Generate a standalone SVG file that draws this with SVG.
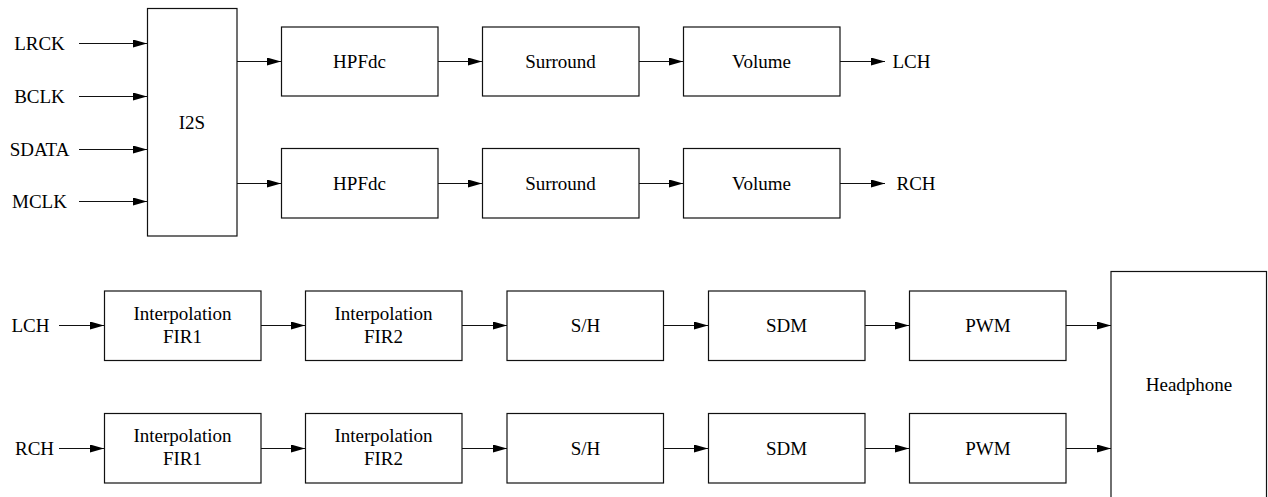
<svg xmlns="http://www.w3.org/2000/svg" width="1268" height="497" viewBox="0 0 1268 497">
<style>
.box{fill:#fff;stroke:#111;stroke-width:1.2}
.t{font-family:"Liberation Serif","Times New Roman","DejaVu Serif",serif;font-size:19px;fill:#000}
.m{text-anchor:middle}
.c{stroke:#111;stroke-width:1.2;fill:none;marker-end:url(#ah)}
</style>
<defs>
<marker id="ah" markerUnits="userSpaceOnUse" markerWidth="14" markerHeight="8" refX="14" refY="4" orient="auto">
<path d="M0,0 L14,4 L0,8 z" fill="#000"/>
</marker>
</defs>
<rect width="1268" height="497" fill="#fff"/>

<g id="labels">
<text class="t m" x="39.5" y="49.5">LRCK</text>
<text class="t m" x="39.5" y="102.5">BCLK</text>
<text class="t m" x="39.5" y="155.5">SDATA</text>
<text class="t m" x="39.5" y="207.5">MCLK</text>
<text class="t" x="892.5" y="68">LCH</text>
<text class="t" x="896.5" y="190">RCH</text>
<text class="t" x="11.5" y="332">LCH</text>
<text class="t" x="15" y="455">RCH</text>
</g>

<g id="i2s"><rect class="box" x="147.5" y="8.5" width="89.5" height="227.5"/><text class="t m" x="192" y="128.5">I2S</text></g>

<g id="hpf1"><rect class="box" x="281.5" y="27" width="156.5" height="69"/><text class="t m" x="359.5" y="68">HPFdc</text></g>
<g id="sur1"><rect class="box" x="482.5" y="27" width="156.5" height="69"/><text class="t m" x="560.5" y="68">Surround</text></g>
<g id="vol1"><rect class="box" x="683.5" y="27" width="156.5" height="69"/><text class="t m" x="761.5" y="68">Volume</text></g>
<g id="hpf2"><rect class="box" x="281.5" y="148.5" width="156.5" height="69.5"/><text class="t m" x="359.5" y="190">HPFdc</text></g>
<g id="sur2"><rect class="box" x="482.5" y="148.5" width="156.5" height="69.5"/><text class="t m" x="560.5" y="190">Surround</text></g>
<g id="vol2"><rect class="box" x="683.5" y="148.5" width="156.5" height="69.5"/><text class="t m" x="761.5" y="190">Volume</text></g>

<g id="fir1a"><rect class="box" x="104.5" y="291" width="156.5" height="69.5"/><text class="t m" x="182.5" y="319.5">Interpolation</text><text class="t m" x="182.5" y="342.5">FIR1</text></g>
<g id="fir2a"><rect class="box" x="305.5" y="291" width="156.5" height="69.5"/><text class="t m" x="383.5" y="319.5">Interpolation</text><text class="t m" x="383.5" y="342.5">FIR2</text></g>
<g id="sha"><rect class="box" x="507" y="291" width="156.5" height="69.5"/><text class="t m" x="585.5" y="332">S/H</text></g>
<g id="sdma"><rect class="box" x="708.5" y="291" width="156.5" height="69.5"/><text class="t m" x="786.5" y="332">SDM</text></g>
<g id="pwma"><rect class="box" x="909.5" y="291" width="156.5" height="69.5"/><text class="t m" x="988" y="332">PWM</text></g>

<g id="fir1b"><rect class="box" x="104.5" y="413.5" width="156.5" height="69.5"/><text class="t m" x="182.5" y="442">Interpolation</text><text class="t m" x="182.5" y="465">FIR1</text></g>
<g id="fir2b"><rect class="box" x="305.5" y="413.5" width="156.5" height="69.5"/><text class="t m" x="383.5" y="442">Interpolation</text><text class="t m" x="383.5" y="465">FIR2</text></g>
<g id="shb"><rect class="box" x="507" y="413.5" width="156.5" height="69.5"/><text class="t m" x="585.5" y="455">S/H</text></g>
<g id="sdmb"><rect class="box" x="708.5" y="413.5" width="156.5" height="69.5"/><text class="t m" x="786.5" y="455">SDM</text></g>
<g id="pwmb"><rect class="box" x="909.5" y="413.5" width="156.5" height="69.5"/><text class="t m" x="988" y="455">PWM</text></g>

<g id="headphone"><rect class="box" x="1111" y="271.5" width="155.5" height="240"/><text class="t m" x="1189" y="391">Headphone</text></g>

<g id="connectors">
<line class="c" x1="79" y1="43.5" x2="147" y2="43.5"/>
<line class="c" x1="79" y1="96.5" x2="147" y2="96.5"/>
<line class="c" x1="79" y1="149.5" x2="147" y2="149.5"/>
<line class="c" x1="79" y1="201.5" x2="147" y2="201.5"/>
<line class="c" x1="237" y1="61.5" x2="281" y2="61.5"/>
<line class="c" x1="438" y1="61.5" x2="482" y2="61.5"/>
<line class="c" x1="639" y1="61.5" x2="683" y2="61.5"/>
<line class="c" x1="840" y1="61.5" x2="885" y2="61.5"/>
<line class="c" x1="237" y1="183.5" x2="281" y2="183.5"/>
<line class="c" x1="438" y1="183.5" x2="482" y2="183.5"/>
<line class="c" x1="639" y1="183.5" x2="683" y2="183.5"/>
<line class="c" x1="840" y1="183.5" x2="885" y2="183.5"/>
<line class="c" x1="59" y1="325.5" x2="104" y2="325.5"/>
<line class="c" x1="261" y1="325.5" x2="305" y2="325.5"/>
<line class="c" x1="462" y1="325.5" x2="507" y2="325.5"/>
<line class="c" x1="663.5" y1="325.5" x2="708" y2="325.5"/>
<line class="c" x1="865" y1="325.5" x2="909" y2="325.5"/>
<line class="c" x1="1066" y1="325.5" x2="1111" y2="325.5"/>
<line class="c" x1="59" y1="448.5" x2="104" y2="448.5"/>
<line class="c" x1="261" y1="448.5" x2="305" y2="448.5"/>
<line class="c" x1="462" y1="448.5" x2="507" y2="448.5"/>
<line class="c" x1="663.5" y1="448.5" x2="708" y2="448.5"/>
<line class="c" x1="865" y1="448.5" x2="909" y2="448.5"/>
<line class="c" x1="1066" y1="448.5" x2="1111" y2="448.5"/>
</g>
</svg>
